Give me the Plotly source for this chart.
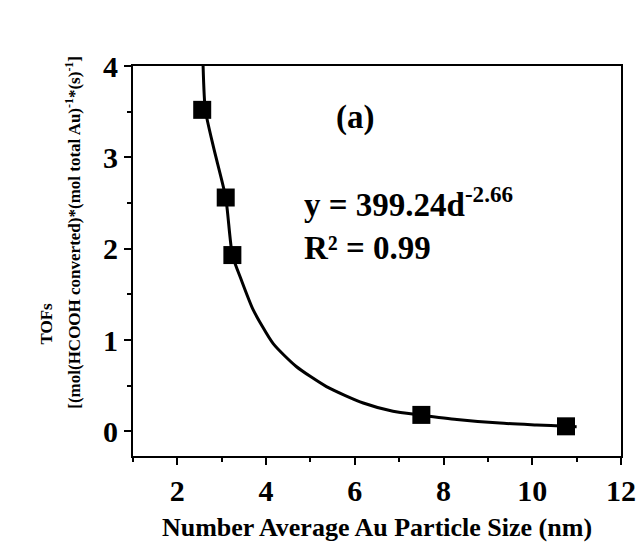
import plotly.graph_objects as go

# Data points (particle size nm, TOF)
size_nm = [2.56, 3.09, 3.24, 7.50, 10.76]
tofs = [3.52, 2.56, 1.93, 0.18, 0.055]

# Fitted curve
fit_x = [2.58, 2.63, 2.82, 3.09, 3.24, 3.44, 3.71, 4.16, 4.68, 5.36, 6.19, 6.86, 7.47, 8.30, 9.27, 10.10, 10.76, 11.0]
fit_y = [4.00, 3.52, 3.10, 2.56, 1.93, 1.66, 1.33, 0.96, 0.71, 0.49, 0.31, 0.22, 0.18, 0.13, 0.09, 0.07, 0.055, 0.05]

x_ticks = [2, 4, 6, 8, 10, 12]
y_ticks = [0, 1, 2, 3, 4]

FONT = "Liberation Serif"

fig = go.Figure()
fig.add_trace(go.Scatter(x=fit_x, y=fit_y, mode="lines",
                         line=dict(color="black", width=3, shape="spline", smoothing=0.6),
                         showlegend=False, hoverinfo="skip"))
fig.add_trace(go.Scatter(x=size_nm, y=tofs, mode="markers",
                         marker=dict(symbol="square", size=18, color="black"),
                         showlegend=False))

axis_common = dict(showline=True, linecolor="black", linewidth=2, mirror=True,
                   ticks="outside", tickcolor="black", tickwidth=2, ticklen=7,
                   showgrid=False, zeroline=False, automargin=False,
                   tickfont=dict(family=FONT, size=30, color="black", weight="bold"))

fig.update_xaxes(range=[1, 12], tickvals=x_ticks,
                 minor=dict(ticks="outside", tickvals=[1, 3, 5, 7, 9, 11], ticklen=4, tickwidth=2, tickcolor="black"),
                 title=dict(text="<b>Number Average Au Particle Size (nm)</b>",
                            font=dict(family=FONT, size=26, color="black"), standoff=14),
                 **axis_common)
fig.update_yaxes(range=[-0.27, 4], tickvals=y_ticks,
                 minor=dict(ticks="outside", tickvals=[0.5, 1.5, 2.5, 3.5], ticklen=4, tickwidth=2, tickcolor="black"),
                 **axis_common)

fig.update_layout(
    width=637, height=542,
    margin=dict(l=133, r=16, t=66, b=86),
    plot_bgcolor="white", paper_bgcolor="white",
    font=dict(family=FONT, color="black"),
)

fig.add_annotation(x=-0.123, y=0.575, xref="paper", yref="paper", textangle=-90,
                   text="<b>[(mol(HCOOH converted)*(mol total Au)<sup>-1</sup>*(s)<sup>-1</sup>]</b>",
                   showarrow=False, font=dict(family=FONT, size=17, color="black"),
                   xanchor="center", yanchor="middle")
fig.add_annotation(x=-0.178, y=0.34, xref="paper", yref="paper", textangle=-90,
                   text="<b>TOFs</b>",
                   showarrow=False, font=dict(family=FONT, size=17, color="black"),
                   xanchor="center", yanchor="middle")
fig.add_annotation(x=6.0, y=3.44, text="<b>(a)</b>", showarrow=False,
                   font=dict(family=FONT, size=33, color="black"), xanchor="center", yanchor="middle")
fig.add_annotation(x=0.347, y=0.595, xref="paper", yref="paper",
                   text="<b>y = 399.24d<sup>-2.66</sup><br>R² = 0.99</b>", align="left",
                   showarrow=False, font=dict(family=FONT, size=33, color="black"),
                   xanchor="left", yanchor="middle")

fig.write_html("out.html", config={"displayModeBar": False},
               post_script="document.body.style.margin='0';document.body.style.overflow='hidden';")
